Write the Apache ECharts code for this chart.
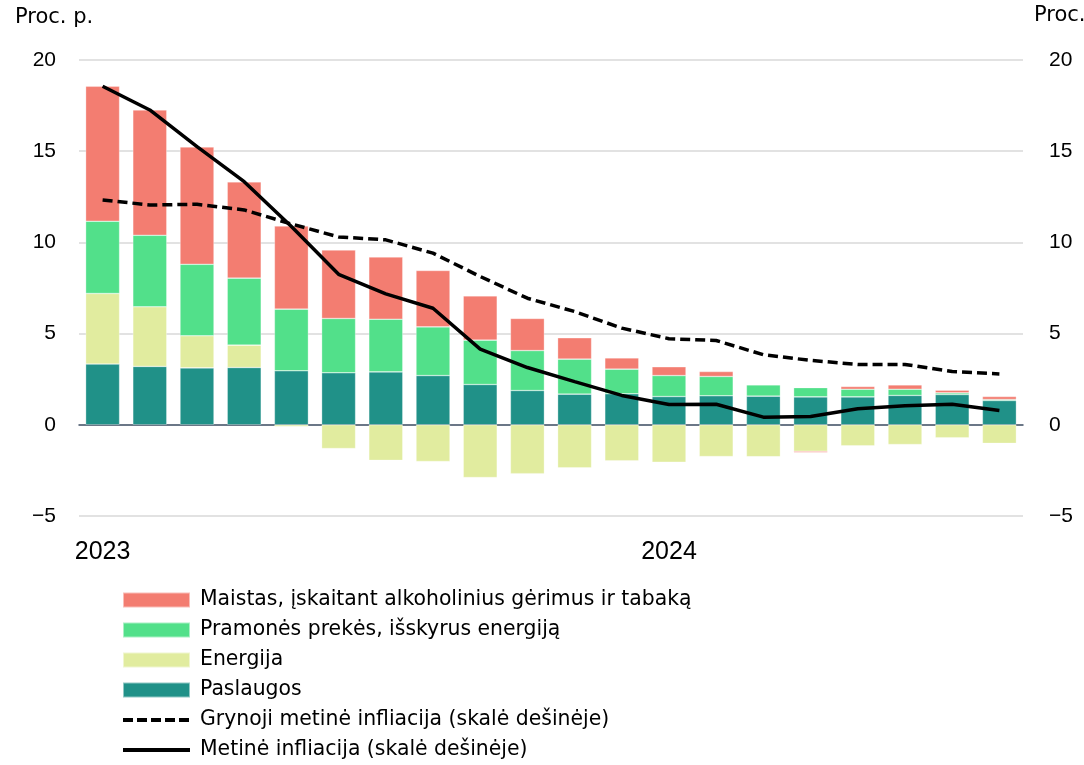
<!DOCTYPE html>
<html><head><meta charset="utf-8">
<script src="https://cdn.jsdelivr.net/npm/echarts@6/dist/echarts.min.js"></script>
<style>html,body{margin:0;padding:0;background:#fff}#c{width:1084px;height:765px}</style>
</head><body><div id="c"></div>
<script>
const months = ['2023-01','2023-02','2023-03','2023-04','2023-05','2023-06','2023-07','2023-08','2023-09','2023-10','2023-11','2023-12',
'2024-01','2024-02','2024-03','2024-04','2024-05','2024-06','2024-07','2024-08'];
const yearLabels = {'2023-01':'2023','2024-01':'2024'};
const services   = [3.33,3.2,3.12,3.14,2.96,2.85,2.9,2.7,2.21,1.88,1.68,1.7,1.55,1.59,1.57,1.53,1.53,1.61,1.66,1.33];
const energy     = [3.87,3.27,1.76,1.23,-0.09,-1.3,-1.95,-2.01,-2.89,-2.68,-2.36,-1.97,-2.05,-1.74,-1.75,-1.45,-1.15,-1.08,-0.71,-1.02];
const industrial = [3.96,3.92,3.92,3.67,3.38,2.98,2.89,2.67,2.43,2.19,1.92,1.35,1.15,1.06,0.62,0.51,0.42,0.34,0.09,0.06];
const food       = [7.4,6.87,6.43,5.28,4.56,3.75,3.41,3.09,2.43,1.76,1.17,0.62,0.48,0.27,-0.02,-0.07,0.15,0.24,0.15,0.16];
const coreInfl   = [12.33,12.05,12.09,11.78,11.01,10.3,10.14,9.41,8.13,6.94,6.21,5.3,4.72,4.62,3.84,3.53,3.31,3.31,2.92,2.79];
const headline   = [18.56,17.26,15.25,13.33,10.87,8.25,7.18,6.39,4.15,3.14,2.37,1.61,1.11,1.13,0.42,0.46,0.88,1.04,1.13,0.78];
const names = ['Maistas, įskaitant alkoholinius gėrimus ir tabaką','Pramonės prekės, išskyrus energiją','Energija','Paslaugos',
'Grynoji metinė infliacija (skalė dešinėje)','Metinė infliacija (skalė dešinėje)'];
const yTicks = {min:-5,max:20,interval:5};

const font = '"Liberation Sans", Arial, sans-serif';
const wide = '"DejaVu Sans", "Liberation Sans", sans-serif';
const chart = echarts.init(document.getElementById('c'));
const bar = (name, data, color) => ({type:'bar',stack:'a',name,data,barCategoryGap:'28%',
  itemStyle:{color,borderColor:'rgba(255,255,255,0.5)',borderWidth:0.6}});
const fmt = v => v < 0 ? '\u2212' + Math.abs(v) : String(v);
const hideDot = {color:'rgba(0,0,0,0)',borderWidth:0,borderColor:'rgba(0,0,0,0)'};
chart.setOption({
  animation:false,
  textStyle:{fontFamily:font},
  grid:{left:79,right:61,top:60,bottom:249,containLabel:false,outerBoundsMode:'none'},
  legend:{
    orient:'vertical',left:121,top:590,itemWidth:67,itemHeight:15,itemGap:10,padding:0,
    textStyle:{fontSize:20.4,lineHeight:20,color:'#000',fontFamily:wide,padding:[0,0,0,5]},
    data:[
      {name:names[0],icon:'rect'},{name:names[1],icon:'rect'},{name:names[2],icon:'rect'},{name:names[3],icon:'rect'},
      {name:names[4],itemStyle:hideDot,lineStyle:{width:4,type:[10,4],color:'#000'}},
      {name:names[5],itemStyle:hideDot,lineStyle:{width:4,color:'#000'}}
    ]
  },
  xAxis:[
    {type:'category',data:months,
      axisLine:{show:false},axisTick:{show:false},
      axisLabel:{interval:0,formatter:v=>yearLabels[v]||'',fontSize:25,color:'#000',fontFamily:font,margin:24}},
    {type:'category',data:months,position:'bottom',
      axisLine:{show:true,onZero:true,onZeroAxisIndex:0,lineStyle:{color:'#44546a',width:1.5}},
      axisTick:{show:false},axisLabel:{show:false},splitLine:{show:false}}
  ],
  yAxis:[
    {type:'value',min:yTicks.min,max:yTicks.max,interval:yTicks.interval,
      name:'Proc. p.',nameLocation:'end',nameGap:32,nameTextStyle:{fontSize:21,fontFamily:wide,color:'#000',align:'left',padding:[0,0,0,-64]},
      axisLabel:{fontSize:21,color:'#000',fontFamily:font,formatter:fmt,margin:23},
      splitLine:{lineStyle:{color:'#d9d9d9',width:1.5}},axisLine:{show:false},axisTick:{show:false}},
    {type:'value',min:yTicks.min,max:yTicks.max,interval:yTicks.interval,position:'right',
      name:'Proc.',nameLocation:'end',nameGap:34,nameTextStyle:{fontSize:21,fontFamily:wide,color:'#000',align:'left',padding:[0,0,0,11]},
      axisLabel:{fontSize:21,color:'#000',fontFamily:font,formatter:fmt,margin:26},
      splitLine:{show:false},axisLine:{show:false},axisTick:{show:false}}
  ],
  series:[
    bar(names[3],services,'#209188'),
    bar(names[2],energy,'#e1ec9f'),
    bar(names[1],industrial,'#52e08a'),
    bar(names[0],food,'#f37d71'),
    {type:'line',name:names[4],yAxisIndex:1,data:coreInfl,showSymbol:false,symbol:'none',z:5,
      lineStyle:{color:'#000',width:3.5,type:[10,5]},itemStyle:{color:'#000'}},
    {type:'line',name:names[5],yAxisIndex:1,data:headline,showSymbol:false,symbol:'none',z:5,
      lineStyle:{color:'#000',width:3.5},itemStyle:{color:'#000'}}
  ]
});
</script></body></html>
